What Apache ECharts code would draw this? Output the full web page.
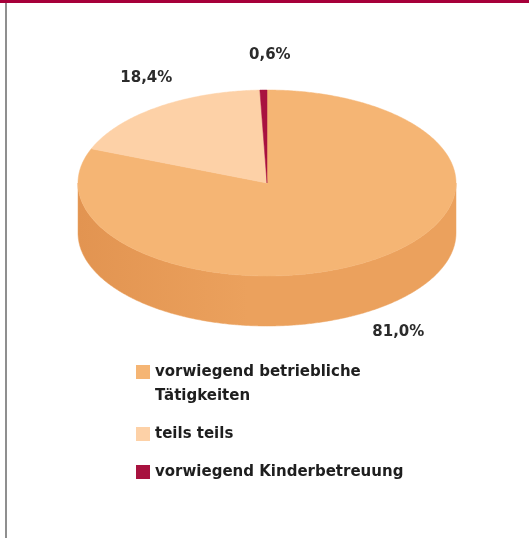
<!DOCTYPE html>
<html>
<head>
<meta charset="utf-8">
<script src="https://cdn.jsdelivr.net/npm/echarts@6/dist/echarts.min.js"></script>
<style>
  html, body { margin: 0; padding: 0; background: #fff; }
  #demo { width: 529px; height: 538px; }
</style>
</head>
<body>
<div id="demo"></div>
<script>
var categories = ['vorwiegend betriebliche\nTätigkeiten', 'teils teils', 'vorwiegend Kinderbetreuung'];
var shares = [81.0, 18.4, 0.6];
var topColors = ['#f5b574', '#fdd1a7', '#a8123f'];
var sideColors = ['#eba15d', '#f3bb8a', '#8a0f33'];
var sideShade = ['#e29451', '#eaae7c', '#7a0c2c'];

window.onload = function() {
    var myCharts = echarts.init(document.getElementById('demo'));
    var total = shares.reduce(function(a, b) { return a + b; }, 0);

    // ellipse point, angle clockwise from 12 o'clock
    function pt(cx, cy, rx, ry, a, dy) {
        return [cx + rx * Math.sin(a), cy - ry * Math.cos(a) + (dy || 0)];
    }

    function renderSlice(params, api) {
        var s = params.seriesIndex;
        var cx = 267, cy = 183, rx = 189, ry = 93, depth = 50;
        var before = 0;
        for (var i = 0; i < s; i++) before += shares[i];
        var v = api.value(0);
        var a0 = before / total * Math.PI * 2;
        var a1 = (before + v) / total * Math.PI * 2;
        var step = Math.PI / 360;
        var children = [];

        // side wall, only the front half (3 o'clock -> 9 o'clock) is visible
        var s0 = Math.max(a0, Math.PI / 2), s1 = Math.min(a1, Math.PI * 1.5);
        if (s1 > s0) {
            var side = [], a;
            for (a = s0; a < s1; a += step) side.push(pt(cx, cy, rx, ry, a));
            side.push(pt(cx, cy, rx, ry, s1));
            for (a = s1; a > s0; a -= step) side.push(pt(cx, cy, rx, ry, a, depth));
            side.push(pt(cx, cy, rx, ry, s0, depth));
            children.push({
                type: 'polygon',
                shape: { points: side },
                style: {
                    fill: {
                        type: 'linear', x: 0, y: 0, x2: 1, y2: 0,
                        colorStops: [
                            { offset: 0, color: sideShade[s] },
                            { offset: 0.45, color: sideColors[s] },
                            { offset: 1, color: sideColors[s] }
                        ]
                    },
                    stroke: sideColors[s],
                    lineWidth: 0.5
                },
                z2: 1
            });
        }

        // top face
        var top = [[cx, cy]];
        for (var b = a0; b < a1; b += step) top.push(pt(cx, cy, rx, ry, b));
        top.push(pt(cx, cy, rx, ry, a1));
        children.push({
            type: 'polygon',
            shape: { points: top },
            style: { fill: api.visual('color'), stroke: api.visual('color'), lineWidth: 0.5 },
            z2: 5
        });

        // value label outside the slice
        var m = (a0 + a1) / 2;
        var lp = pt(cx + 7, cy - 2, rx * 1.17, ry * 1.35, m, Math.cos(m) < 0 ? depth * 0.95 : 0);
        children.push({
            type: 'text',
            style: {
                text: v.toFixed(1).replace('.', ',') + '%',
                x: lp[0], y: lp[1],
                align: 'center', verticalAlign: 'middle',
                font: 'bold 15px "DejaVu Sans"',
                fill: '#2b2b2b'
            },
            z2: 10
        });
        return { type: 'group', children: children };
    }

    var series = categories.map(function(name, i) {
        return {
            name: name,
            type: 'custom',
            coordinateSystem: 'none',
            itemStyle: { color: topColors[i] },
            renderItem: renderSlice,
            data: [shares[i]],
            silent: true
        };
    });

    var option = {
        backgroundColor: '#fff',
        animation: false,
        graphic: [
            { type: 'rect', shape: { x: 0, y: 0, width: 529, height: 3 }, style: { fill: '#a6003a' } },
            { type: 'rect', shape: { x: 5, y: 3, width: 2, height: 535 }, style: { fill: '#8f8f8f' } }
        ],
        legend: {
            orient: 'vertical',
            left: 136,
            top: 336,
            padding: 0,
            itemGap: 14,
            itemWidth: 14,
            itemHeight: 14,
            icon: 'rect',
            selectedMode: false,
            data: categories,
            // a blank first line keeps the icon level with the first text line
            formatter: function(name) {
                return name.indexOf('\n') >= 0 ? '\n' + name : name;
            },
            textStyle: {
                fontFamily: 'DejaVu Sans',
                fontWeight: 'bold',
                fontSize: 15,
                lineHeight: 24,
                color: '#1e1e1e'
            }
        },
        series: series
    };
    myCharts.setOption(option);
};
</script>
</body>
</html>
